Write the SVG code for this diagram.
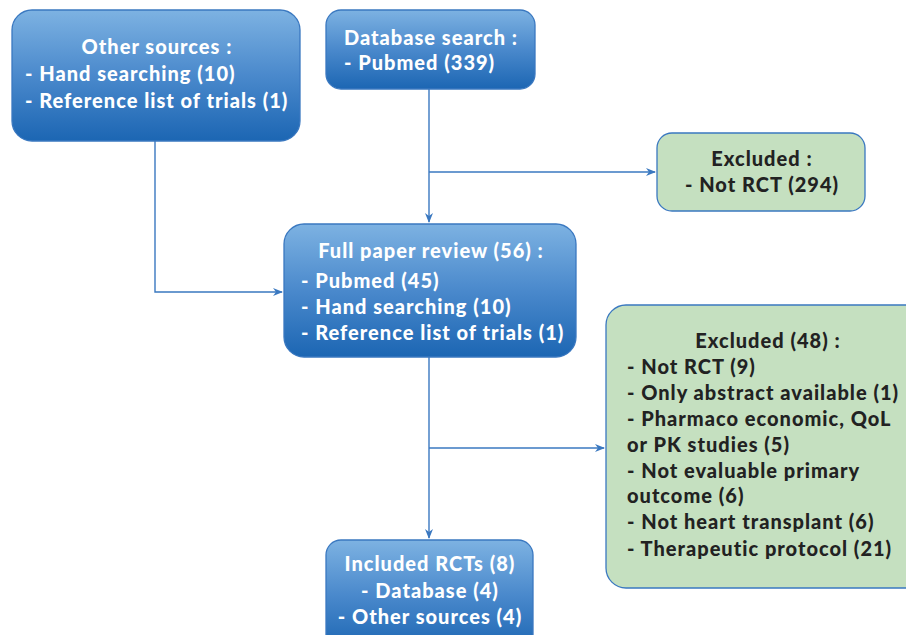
<svg xmlns="http://www.w3.org/2000/svg" width="906" height="635" viewBox="0 0 906 635">
<defs>
<linearGradient id="blue" x1="0" y1="0" x2="0" y2="1">
<stop offset="0" stop-color="#7db2e2"/>
<stop offset="0.5" stop-color="#4a89cc"/>
<stop offset="1" stop-color="#1c66b3"/>
</linearGradient>
<marker id="arr" markerWidth="10" markerHeight="10" refX="9" refY="5" orient="auto" markerUnits="userSpaceOnUse">
<path d="M0,1 L10,5 L0,9 L3,5 Z" fill="#3a78c0"/>
</marker>
</defs>
<style>
.bbox{fill:url(#blue);stroke:#3a78c0;stroke-width:1.3}
.gbox{fill:#c5e0c0;stroke:#3a78c0;stroke-width:1.3}
text{font-family:Lato,"Open Sans","Liberation Sans",sans-serif;font-weight:900;font-size:20px;letter-spacing:1px}
.w{fill:#ffffff}
.d{fill:#222222}
.c{text-anchor:middle}
.conn{fill:none;stroke:#3a78c0;stroke-width:1.4}
</style>
<rect width="906" height="635" fill="#ffffff"/>
<g id="connectors">
<path class="conn" d="M429,89 V222" marker-end="url(#arr)"/>
<path class="conn" d="M429,172 H655" marker-end="url(#arr)"/>
<path class="conn" d="M155,141 V292 H282" marker-end="url(#arr)"/>
<path class="conn" d="M429,357 V538" marker-end="url(#arr)"/>
<path class="conn" d="M429,448 H604" marker-end="url(#arr)"/>
</g>
<g id="other-sources">
<rect class="bbox" x="12" y="10" width="288" height="131" rx="20"/>
<text class="w c" x="157" y="54">Other sources :</text>
<text class="w" x="25" y="81">- Hand searching (10)</text>
<text class="w" x="25" y="108">- Reference list of trials (1)</text>
</g>
<g id="database-search">
<rect class="bbox" x="326" y="10" width="209" height="79" rx="15"/>
<text class="w" x="344" y="45">Database search :</text>
<text class="w" x="344" y="70">- Pubmed (339)</text>
</g>
<g id="excluded-1">
<rect class="gbox" x="657" y="133" width="208" height="78" rx="15"/>
<text class="d c" x="762" y="166">Excluded :</text>
<text class="d c" x="762" y="192">- Not RCT (294)</text>
</g>
<g id="full-paper-review">
<rect class="bbox" x="284" y="224" width="292" height="133" rx="20"/>
<text class="w c" x="431" y="258">Full paper review (56) :</text>
<text class="w" x="301" y="288">- Pubmed (45)</text>
<text class="w" x="301" y="314">- Hand searching (10)</text>
<text class="w" x="301" y="340">- Reference list of trials (1)</text>
</g>
<g id="excluded-2">
<rect class="gbox" x="606" y="305" width="320" height="283" rx="20"/>
<text class="d c" x="768" y="348">Excluded (48) :</text>
<text class="d" x="627" y="374">- Not RCT (9)</text>
<text class="d" x="627" y="400">- Only abstract available (1)</text>
<text class="d" x="627" y="426">- Pharmaco economic, QoL</text>
<text class="d" x="627" y="452">or PK studies (5)</text>
<text class="d" x="627" y="478">- Not evaluable primary</text>
<text class="d" x="627" y="503">outcome (6)</text>
<text class="d" x="627" y="529">- Not heart transplant (6)</text>
<text class="d" x="627" y="556">- Therapeutic protocol (21)</text>
</g>
<g id="included-rcts">
<rect class="bbox" x="326" y="540" width="207" height="110" rx="15"/>
<text class="w c" x="430" y="571">Included RCTs (8)</text>
<text class="w c" x="430" y="598">- Database (4)</text>
<text class="w c" x="430" y="624">- Other sources (4)</text>
</g>
</svg>
